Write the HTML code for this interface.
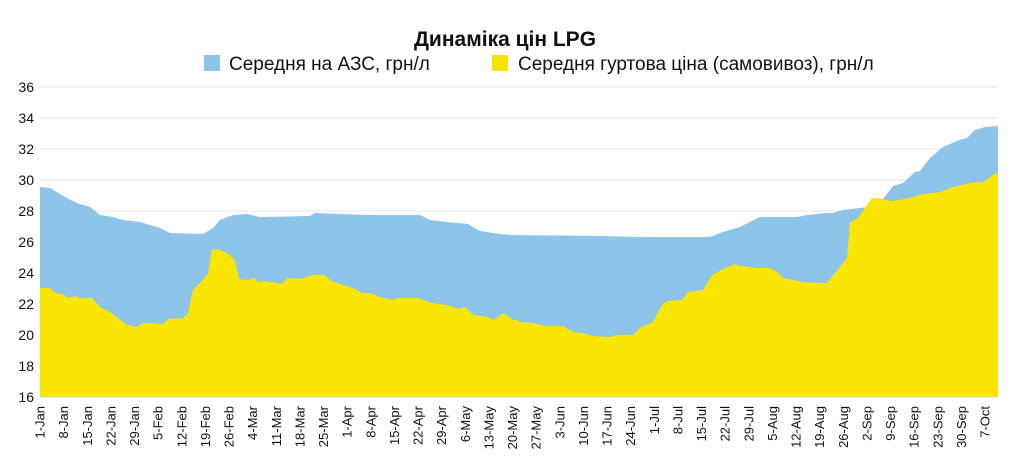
<!DOCTYPE html>
<html><head><meta charset="utf-8"><style>
body{margin:0;background:#fff}
svg{display:block;font-family:"Liberation Sans",sans-serif}
</style></head><body>
<svg width="1030" height="470" viewBox="0 0 1030 470" xmlns="http://www.w3.org/2000/svg">
<text x="505" y="46" text-anchor="middle" font-size="21" font-weight="bold" fill="#111">Динаміка цін LPG</text>
<rect x="204" y="55" width="16" height="16" fill="#8dc4ea"/>
<text x="229" y="70" font-size="19" fill="#111">Середня на АЗС, грн/л</text>
<rect x="492" y="55" width="16" height="16" fill="#f9e500"/>
<text x="518" y="70" font-size="19" fill="#111">Середня гуртова ціна (самовивоз), грн/л</text>
<g stroke="#e6e6e6" stroke-width="1">
<line x1="40" x2="998" y1="87" y2="87"/><line x1="40" x2="998" y1="118" y2="118"/><line x1="40" x2="998" y1="149" y2="149"/><line x1="40" x2="998" y1="180" y2="180"/><line x1="40" x2="998" y1="211" y2="211"/><line x1="40" x2="998" y1="242" y2="242"/><line x1="40" x2="998" y1="273" y2="273"/><line x1="40" x2="998" y1="304" y2="304"/><line x1="40" x2="998" y1="335" y2="335"/><line x1="40" x2="998" y1="366" y2="366"/>
</g>
<polygon fill="#8dc4ea" points="40,397 40,187 50,188 67,198 77,203 90,207 100,215 113,217 123,220 140,222 160,228 170,233 203,234 213,228 220,220 233,215 247,214 260,217 310,216 315,213 367,215 420,215 430,220 447,222 468,224 480,231 493,233 510,235 600,236 640,237 710,237 723,232 740,227 760,217 797,217 807,215 827,213 833,213 843,210 860,208 868,207 880,203 893,186 903,183 915,172 920,171 930,158 943,147 962,139 967,138 975,130 985,127 998,126 998,397"/>
<polygon fill="#f9e500" points="40,397 40,288 50,288 55,293 63,294 68,298 75,296 80,298 92,298 100,307 110,312 120,320 127,325 137,327 143,323 147,323 163,324 168,319 183,318 188,313 193,290 203,280 208,273 212,250 218,249 230,255 235,261 239,279 247,280 255,278 257,282 263,281 277,283 282,284 287,278 300,279 313,275 325,275 330,280 337,283 353,288 362,293 370,293 380,297 393,300 398,298 418,298 423,300 432,303 447,305 453,307 458,309 465,307 470,312 473,315 488,317 493,320 497,318 503,313 513,320 517,320 520,322 533,323 540,325 550,326 563,326 573,332 582,333 593,336 610,337 617,335 633,335 640,328 653,322 662,305 667,301 682,300 688,292 703,290 712,275 723,269 735,264 740,266 750,267 755,268 770,268 777,272 783,278 803,282 818,283 827,283 847,258 850,222 857,219 872,198 877,198 892,201 910,198 923,194 940,192 950,188 970,183 983,182 990,177 998,172 998,397"/>
<line x1="40" x2="998" y1="397" y2="397" stroke="#d0d0d0"/>
<g font-size="14" fill="#111" text-anchor="end">
<text x="34" y="92">36</text><text x="34" y="123">34</text><text x="34" y="154">32</text><text x="34" y="185">30</text><text x="34" y="216">28</text><text x="34" y="247">26</text><text x="34" y="278">24</text><text x="34" y="309">22</text><text x="34" y="340">20</text><text x="34" y="371">18</text><text x="34" y="402">16</text>
</g>
<g font-size="13" fill="#111" text-anchor="end">
<text transform="translate(44.5,406) rotate(-90)">1-Jan</text>
<text transform="translate(68.1,406) rotate(-90)">8-Jan</text>
<text transform="translate(91.8,406) rotate(-90)">15-Jan</text>
<text transform="translate(115.4,406) rotate(-90)">22-Jan</text>
<text transform="translate(139,406) rotate(-90)">29-Jan</text>
<text transform="translate(162.6,406) rotate(-90)">5-Feb</text>
<text transform="translate(186.3,406) rotate(-90)">12-Feb</text>
<text transform="translate(209.9,406) rotate(-90)">19-Feb</text>
<text transform="translate(233.5,406) rotate(-90)">26-Feb</text>
<text transform="translate(257.1,406) rotate(-90)">4-Mar</text>
<text transform="translate(280.8,406) rotate(-90)">11-Mar</text>
<text transform="translate(304.4,406) rotate(-90)">18-Mar</text>
<text transform="translate(328,406) rotate(-90)">25-Mar</text>
<text transform="translate(351.6,406) rotate(-90)">1-Apr</text>
<text transform="translate(375.3,406) rotate(-90)">8-Apr</text>
<text transform="translate(398.9,406) rotate(-90)">15-Apr</text>
<text transform="translate(422.5,406) rotate(-90)">22-Apr</text>
<text transform="translate(446.1,406) rotate(-90)">29-Apr</text>
<text transform="translate(469.8,406) rotate(-90)">6-May</text>
<text transform="translate(493.4,406) rotate(-90)">13-May</text>
<text transform="translate(517,406) rotate(-90)">20-May</text>
<text transform="translate(540.6,406) rotate(-90)">27-May</text>
<text transform="translate(564.3,406) rotate(-90)">3-Jun</text>
<text transform="translate(587.9,406) rotate(-90)">10-Jun</text>
<text transform="translate(611.5,406) rotate(-90)">17-Jun</text>
<text transform="translate(635.1,406) rotate(-90)">24-Jun</text>
<text transform="translate(658.8,406) rotate(-90)">1-Jul</text>
<text transform="translate(682.4,406) rotate(-90)">8-Jul</text>
<text transform="translate(706,406) rotate(-90)">15-Jul</text>
<text transform="translate(729.6,406) rotate(-90)">22-Jul</text>
<text transform="translate(753.3,406) rotate(-90)">29-Jul</text>
<text transform="translate(776.9,406) rotate(-90)">5-Aug</text>
<text transform="translate(800.5,406) rotate(-90)">12-Aug</text>
<text transform="translate(824.1,406) rotate(-90)">19-Aug</text>
<text transform="translate(847.8,406) rotate(-90)">26-Aug</text>
<text transform="translate(871.4,406) rotate(-90)">2-Sep</text>
<text transform="translate(895,406) rotate(-90)">9-Sep</text>
<text transform="translate(918.6,406) rotate(-90)">16-Sep</text>
<text transform="translate(942.3,406) rotate(-90)">23-Sep</text>
<text transform="translate(965.9,406) rotate(-90)">30-Sep</text>
<text transform="translate(989.5,406) rotate(-90)">7-Oct</text>
</g>
</svg>
</body></html>
